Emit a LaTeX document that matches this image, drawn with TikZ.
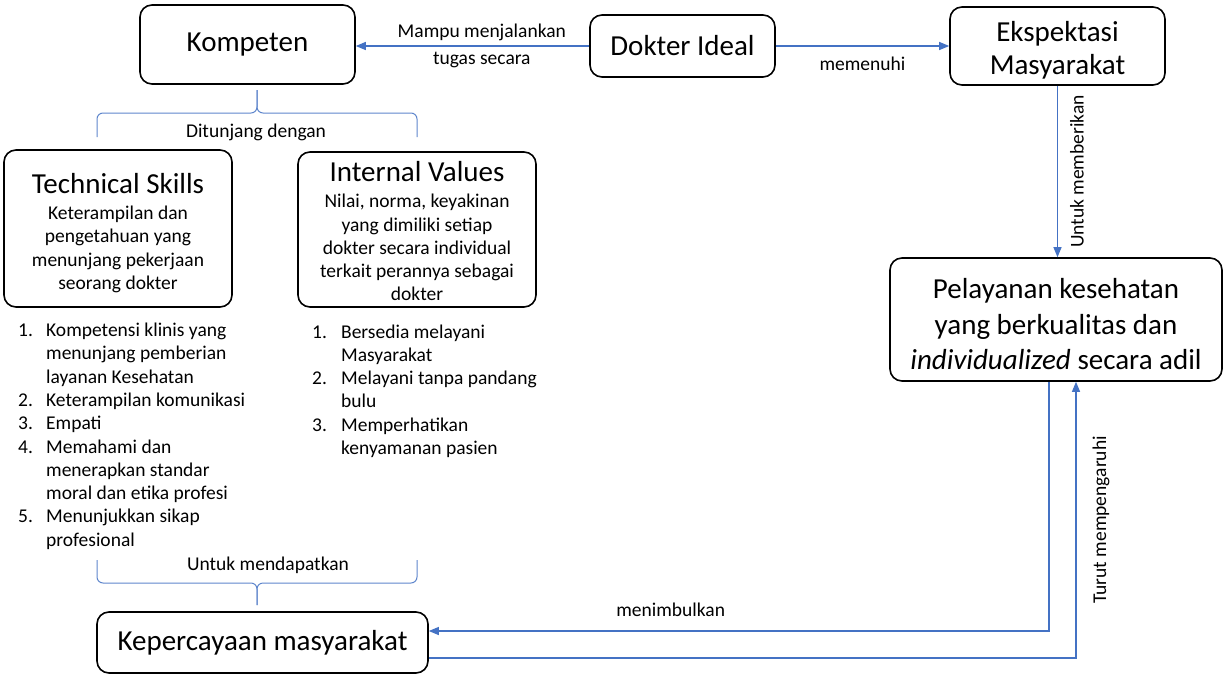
\documentclass[tikz,border=0pt]{standalone}
\usepackage{fontspec}
\setmainfont{Carlito}
\usetikzlibrary{arrows.meta,positioning}
\definecolor{LinkBlue}{RGB}{68,114,196}
\tikzset{
  sbox/.style={draw=black, line width=1.6pt, fill=white, rounded corners=12pt,
    align=center, inner sep=0pt, font=\fontsize{29}{35}\selectfont},
  arrow/.style={draw=LinkBlue, line width=1.1pt, -{Triangle[length=10pt,width=8pt]}},
  bracket/.style={draw=LinkBlue!85, line width=1pt, rounded corners=6pt},
  lbl/.style={font=\fontsize{19.5}{27}\selectfont, align=center, inner sep=0pt},
  listtext/.style={font=\fontsize{19.5}{23.3}\selectfont, anchor=base west, inner sep=0pt}
}

\begin{document}
\begin{tikzpicture}[x=1pt,y=-1pt]
  \useasboundingbox[fill=white] (0,0) rectangle (1224,675);

  % main boxes
  \node[sbox, minimum width=215pt, minimum height=79pt] (kompeten) at (247.5,44.5) {Kompeten};
  \node[sbox, minimum width=185pt, minimum height=62pt] (dokter) at (682.5,46) {Dokter Ideal};
  \node[sbox, minimum width=215pt, minimum height=78pt,
    font=\fontsize{29}{33}\selectfont] (ekspektasi) at (1057.5,46)
    {\rule{0pt}{29pt}Ekspektasi\\Masyarakat};
  \node[sbox, minimum width=332pt, minimum height=123pt,
    font=\fontsize{29}{35.5}\selectfont] (pelayanan) at (1056,319.5)
    {\rule{0pt}{30pt}Pelayanan kesehatan\\yang berkualitas dan\\\textit{individualized} secara adil};
  \node[sbox, minimum width=331pt, minimum height=61pt] (kepercayaan) at (262.5,642.5)
    {Kepercayaan masyarakat};

  \node[sbox, minimum width=228pt, minimum height=157pt,
    font=\fontsize{19.5}{23.5}\selectfont] (technical) at (118,228.5)
    {{\fontsize{29}{29}\selectfont\rule{0pt}{29pt}Technical Skills}\\[2.5pt]
     Keterampilan dan\\pengetahuan yang\\menunjang pekerjaan\\seorang dokter};
  \node[sbox, minimum width=238pt, minimum height=155pt,
    font=\fontsize{19.5}{23.3}\selectfont] (internal) at (417,229.5)
    {{\fontsize{29}{29}\selectfont\rule{0pt}{24pt}Internal Values}\\[2.5pt]
     Nilai, norma, keyakinan\\yang dimiliki setiap\\dokter secara individual\\
     terkait perannya sebagai\\dokter};

  % lists
  \node[listtext] (skilllist) at (18,336.5) {\begin{tabular}[t]{@{}p{28pt}@{}l@{}}
    1. & Kompetensi klinis yang\\
       & menunjang pemberian\\
       & layanan Kesehatan\\
    2. & Keterampilan komunikasi\\
    3. & Empati\\
    4. & Memahami dan\\
       & menerapkan standar\\
       & moral dan etika profesi\\
    5. & Menunjukkan sikap\\
       & profesional
  \end{tabular}};
  \node[listtext] (valuelist) at (312,338) {\begin{tabular}[t]{@{}p{29pt}@{}l@{}}
    1. & Bersedia melayani\\
       & Masyarakat\\
    2. & Melayani tanpa pandang\\
       & bulu\\
    3. & Memperhatikan\\
       & kenyamanan pasien
  \end{tabular}};

  % brackets
  \coordinate (toptip) at (257,90);
  \draw[bracket] (97,137) -- (97,113) -- (257,113) -- (toptip);
  \draw[bracket] (417,137) -- (417,113) -- (257,113) -- (toptip);
  \node[lbl] (support) at (256,132) {Ditunjang dengan};
  \coordinate (bottip) at (257,605);
  \draw[bracket] (97,560) -- (97,583) -- (257,583) -- (bottip);
  \draw[bracket] (417,560) -- (417,583) -- (257,583) -- (bottip);
  \node[lbl] (obtain) at (268,565) {Untuk mendapatkan};

  % connectors
  \draw[arrow] (dokter.west) -- node[lbl, pos=0.46] {Mampu menjalankan\\tugas secara}
    (dokter.west -| kompeten.east);
  \draw[arrow] (dokter.east) -- node[lbl, pos=0.5, yshift=-18pt] {memenuhi}
    (dokter.east -| ekspektasi.west);
  \draw[arrow] (ekspektasi.south) -- node[lbl, rotate=90, anchor=north, inner sep=12pt] {Untuk memberikan}
    (ekspektasi.south |- pelayanan.north);
  \coordinate (turnA) at (1049,631);
  \draw[arrow] (pelayanan.south -| turnA) -- (turnA)
    -- node[lbl, pos=0.61, yshift=21pt] {menimbulkan} (turnA -| kepercayaan.east);
  \coordinate (turnB) at (1076,658);
  \draw[arrow] (turnB -| kepercayaan.east) -- (turnB)
    -- node[lbl, rotate=90, anchor=north, inner sep=16pt, pos=0.5] {Turut mempengaruhi}
    (pelayanan.south -| turnB);
\end{tikzpicture}
\end{document}
